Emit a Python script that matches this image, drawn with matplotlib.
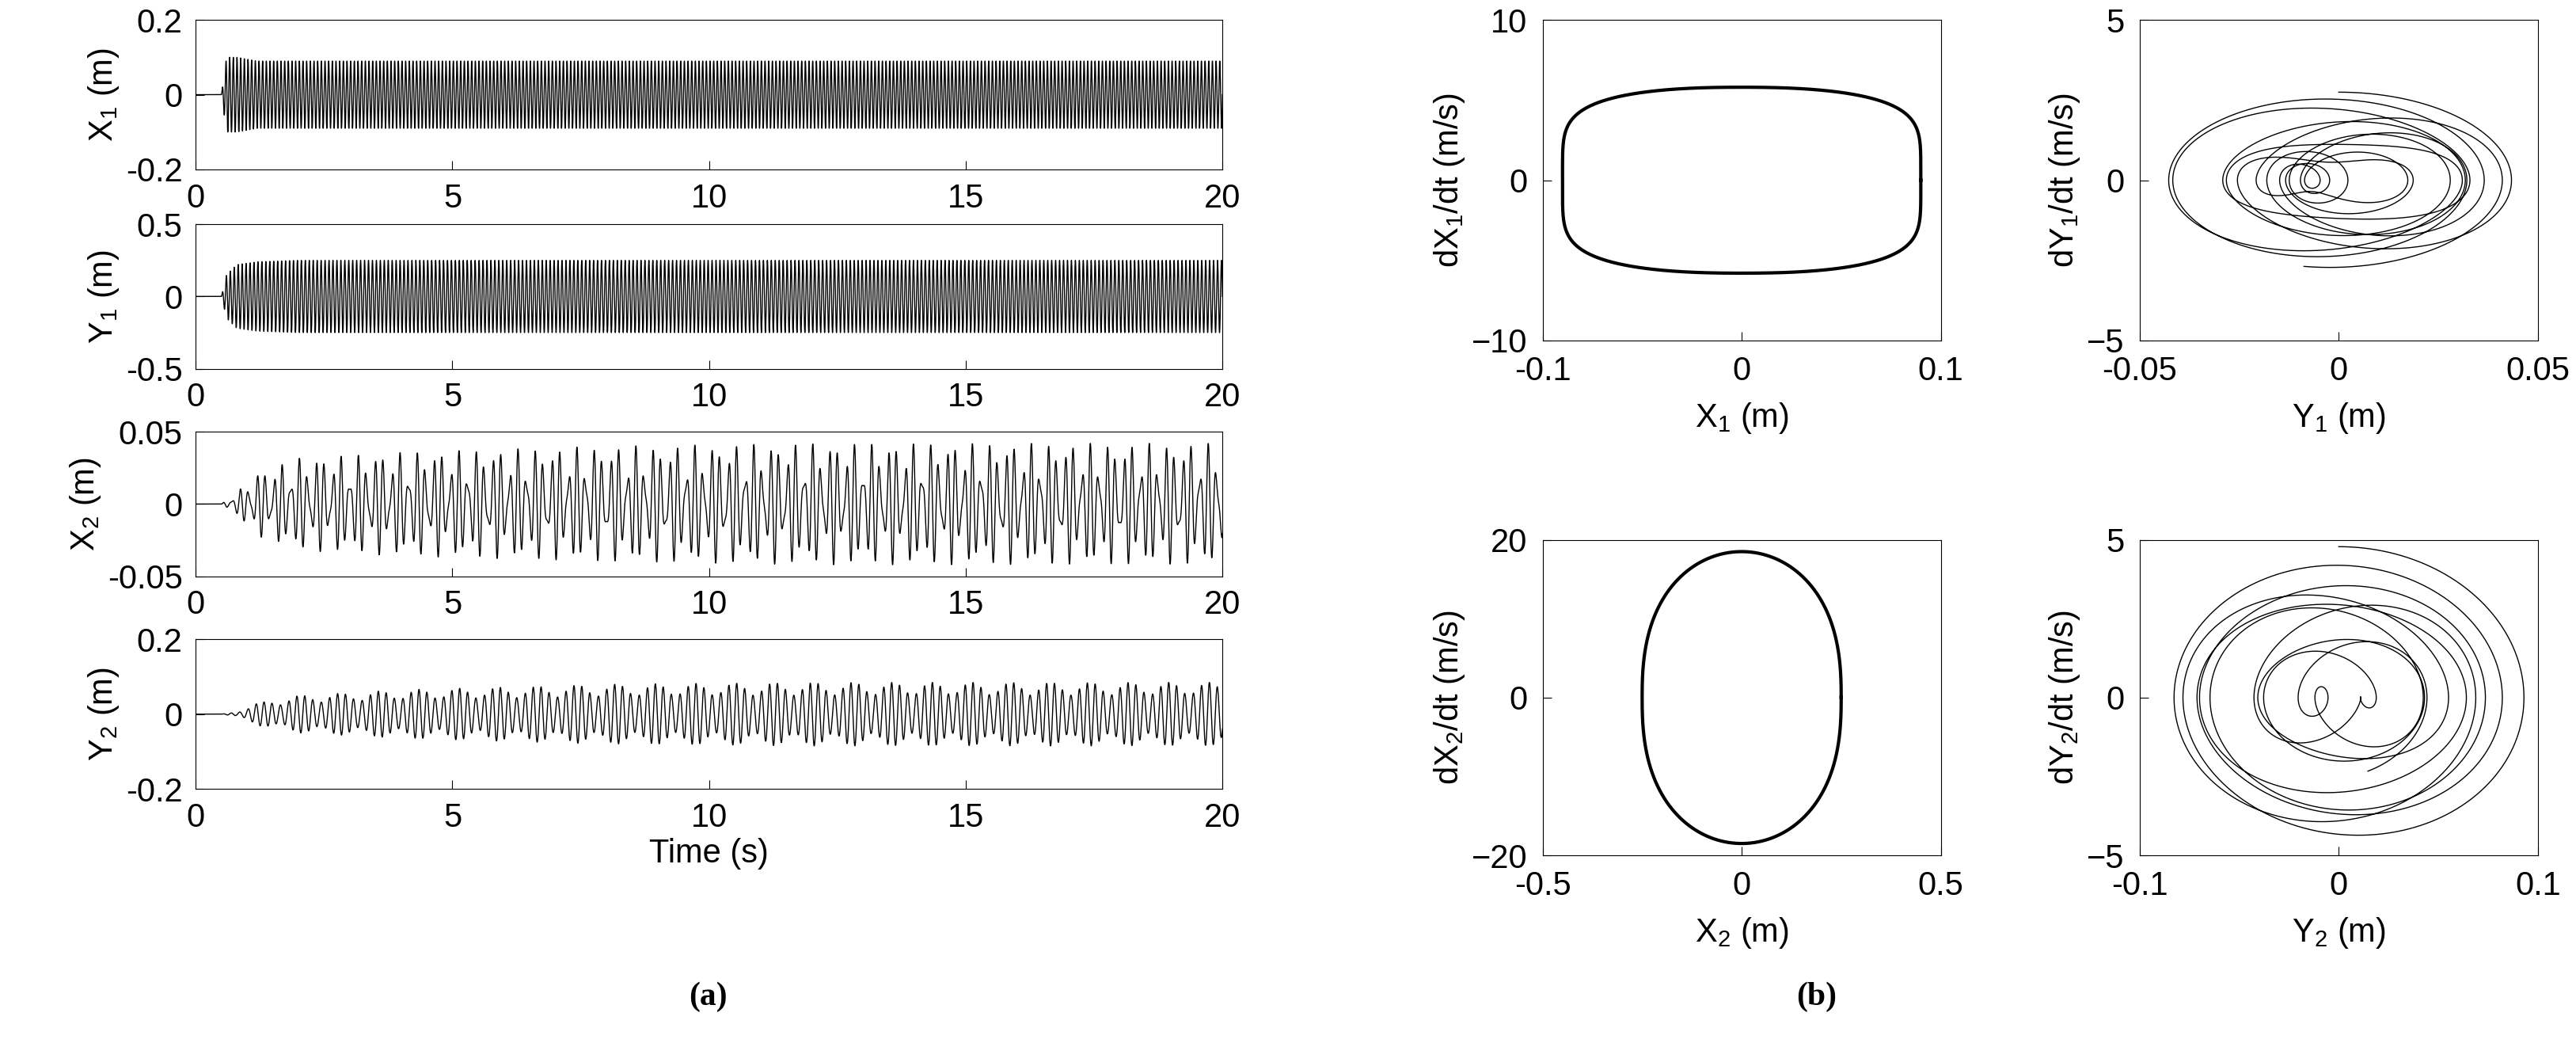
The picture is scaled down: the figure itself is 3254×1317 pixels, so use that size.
import numpy as np
from matplotlib import pyplot as plt

plt.rcParams['font.family'] = ['Liberation Sans', 'DejaVu Sans']
plt.rcParams['mathtext.fontset'] = 'custom'
plt.rcParams['mathtext.rm'] = 'Liberation Sans'

# envelopes read from the time histories (time s, amplitude)
env_t = [0.0, 0.5, 0.6, 0.8, 1.2, 2.0, 4.0, 8.0, 12.0, 20.0]
x1_env = [0.0, 0.0, 0.10, 0.10, 0.09, 0.09, 0.09, 0.09, 0.09, 0.09]
y1_env = [0.0, 0.0, 0.15, 0.22, 0.24, 0.25, 0.25, 0.25, 0.25, 0.25]
x2_env = [0.0, 0.0, 0.003, 0.008, 0.022, 0.032, 0.036, 0.04, 0.042, 0.042]
y2_env = [0.0, 0.0, 0.002, 0.006, 0.03, 0.05, 0.065, 0.08, 0.085, 0.085]
# (frequency Hz, weight) components
freqs_hz = {"x1": [(14.0, 1.0)], "y1": [(13.0, 1.0)],
            "x2": [(6.1, 0.65), (8.7, 0.35)], "y2": [(6.3, 0.8), (7.6, 0.2)]}

# phase portrait extents
x1_amp, v1_amp = 0.09, 5.8
x2_amp, v2_amp = 0.25, 18.5
y1_comp = [(0.022, 1.0), (0.015, 1.31), (0.009, 1.73)]  # (amplitude, rad/unit)
y2_comp = [(0.05, 1.0), (0.03, 1.17), (0.015, 1.41)]

t = np.linspace(0, 20, 40000)


def signal(env, comps):
    e = np.interp(t, env_t, env)
    return e * sum(w * np.sin(2 * np.pi * f * (t - 0.5)) for f, w in comps)


left_series = [
    (signal(x1_env, freqs_hz["x1"]), (-0.2, 0.2), [-0.2, 0, 0.2], ['-0.2', '0', '0.2'], 'X$_1$ (m)'),
    (signal(y1_env, freqs_hz["y1"]), (-0.5, 0.5), [-0.5, 0, 0.5], ['-0.5', '0', '0.5'], 'Y$_1$ (m)'),
    (signal(x2_env, freqs_hz["x2"]), (-0.05, 0.05), [-0.05, 0, 0.05], ['-0.05', '0', '0.05'], 'X$_2$ (m)'),
    (signal(y2_env, freqs_hz["y2"]), (-0.2, 0.2), [-0.2, 0, 0.2], ['-0.2', '0', '0.2'], 'Y$_2$ (m)'),
]

fig = plt.figure(figsize=(32.54, 13.17), dpi=100)
fs = 30
tops = [12, 135, 260, 385]
bots = [102, 222, 347, 475]
H = 628.0
for (y, ylim, yt, ytl, lab), top, bot in zip(left_series, tops, bots):
    ax = fig.add_axes([118 / 1553, 1 - bot / H, (737 - 118) / 1553, (bot - top) / H])
    ax.plot(t, y, 'k', lw=1.0)
    ax.set_xlim(0, 20)
    ax.set_ylim(*ylim)
    ax.set_yticks(yt)
    ax.set_yticklabels(ytl)
    ax.set_xticks([0, 5, 10, 15, 20])
    ax.tick_params(labelsize=fs, direction='in', length=8, pad=12)
    ax.set_ylabel(lab, fontsize=fs)
ax.set_xlabel('Time (s)', fontsize=fs)

th = np.linspace(0, 2 * np.pi, 2000)
s = np.linspace(0, 60, 30000)


def add_phase(x0, top, bot, xs, vs, xlim, xt, xtl, ylim, yt, xl, yl, lw):
    ax = fig.add_axes([x0 / 1553, 1 - bot / H, 240 / 1553, (bot - top) / H])
    ax.plot(xs, vs, 'k', lw=lw)
    ax.set_xlim(*xlim)
    ax.set_ylim(*ylim)
    ax.set_xticks(xt)
    ax.set_xticklabels(xtl)
    ax.set_yticks(yt)
    ax.tick_params(labelsize=fs, direction='in', length=8, pad=14)
    ax.set_xlabel(xl, fontsize=fs, labelpad=12)
    ax.set_ylabel(yl, fontsize=fs)


# stadium-like X1 loop
c, sn = np.cos(th), np.sin(th)
add_phase(930, 12, 205, x1_amp * np.sign(c) * np.abs(c) ** 0.85, v1_amp * np.sign(sn) * np.abs(sn) ** 0.4,
          (-0.1, 0.1), [-0.1, 0, 0.1], ['-0.1', '0', '0.1'], (-10, 10), [-10, 0, 10],
          'X$_1$ (m)', 'dX$_1$/dt (m/s)', 3)
y1 = sum(a * np.sin(w * s) for a, w in y1_comp)
dy1 = sum(a * w * np.cos(w * s) for a, w in y1_comp) * 48
add_phase(1290, 12, 205, y1, dy1, (-0.05, 0.05), [-0.05, 0, 0.05], ['-0.05', '0', '0.05'],
          (-5, 5), [-5, 0, 5], 'Y$_1$ (m)', 'dY$_1$/dt (m/s)', 1.0)
add_phase(930, 325, 515, x2_amp * np.cos(th), v2_amp * np.sign(sn) * np.abs(sn) ** 0.8,
          (-0.5, 0.5), [-0.5, 0, 0.5], ['-0.5', '0', '0.5'], (-20, 20), [-20, 0, 20],
          'X$_2$ (m)', 'dX$_2$/dt (m/s)', 3)
y2 = sum(a * np.sin(w * s) for a, w in y2_comp)
dy2 = sum(a * w * np.cos(w * s) for a, w in y2_comp) * 45
add_phase(1290, 325, 515, y2, dy2, (-0.1, 0.1), [-0.1, 0, 0.1], ['-0.1', '0', '0.1'],
          (-5, 5), [-5, 0, 5], 'Y$_2$ (m)', 'dY$_2$/dt (m/s)', 1.0)

fig.text(427 / 1553, 1 - 600 / H, '(a)', fontsize=fs, fontweight='bold', family='Liberation Serif',
         ha='center', va='center')
fig.text(1095 / 1553, 1 - 600 / H, '(b)', fontsize=fs, fontweight='bold', family='Liberation Serif',
         ha='center', va='center')

fig.savefig('out.png')
